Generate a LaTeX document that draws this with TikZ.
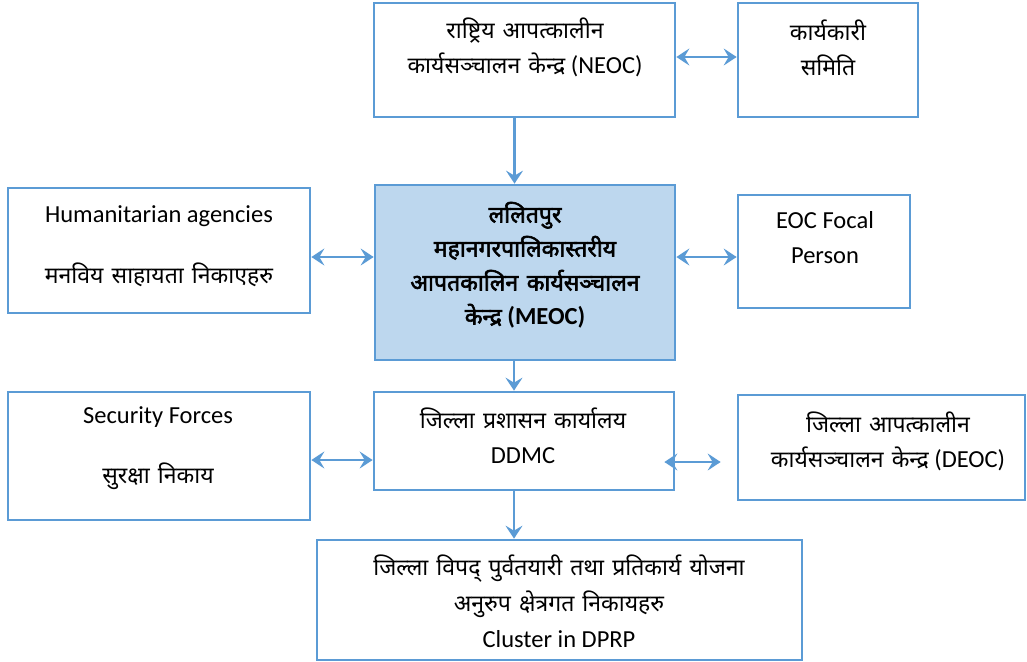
\documentclass[tikz,border=0pt]{standalone}
\usepackage{fontspec}
\setmainfont{Carlito}
\newfontfamily\deva[Script=Devanagari,WordSpace=1.35,Scale=0.94]{Noto Sans}
\newfontfamily\devab[Script=Devanagari,WordSpace=1.2,Scale=0.94,FakeBold=2.5]{Noto Sans}
\usetikzlibrary{arrows.meta}
\definecolor{lineblue}{HTML}{5B9BD5}
\definecolor{fillblue}{HTML}{BDD7EE}
\begin{document}
\begin{tikzpicture}[x=1pt,y=-1pt,
  box/.style={draw=lineblue, line width=2.7pt, rectangle, inner sep=0pt},
  lbl/.style={align=center, inner sep=0pt, font=\fontsize{24.5}{35}\selectfont},
  conn/.style={draw=lineblue, line width=2.7pt, {Stealth[length=13pt,width=17pt,inset=5pt]}-{Stealth[length=13pt,width=17pt,inset=5pt]}},
  arr/.style={draw=lineblue, line width=2.7pt, -{Stealth[length=13pt,width=17pt,inset=5pt]}}]
\useasboundingbox (0,0) rectangle (1027,661);
% boxes
\node[box, minimum width=301pt, minimum height=114pt] (neoc) at (524.5,60) {};
\node[box, minimum width=180pt, minimum height=114pt] (kary) at (828,60) {};
\node[box, minimum width=302pt, minimum height=125pt] (hum) at (159,250.5) {};
\node[box, fill=fillblue, minimum width=300pt, minimum height=175pt] (meoc) at (525,272.5) {};
\node[box, minimum width=172pt, minimum height=113pt] (eoc) at (824,251.5) {};
\node[box, minimum width=302pt, minimum height=128pt] (sec) at (159,456) {};
\node[box, minimum width=300pt, minimum height=98pt] (ddmc) at (524,441) {};
\node[box, minimum width=287pt, minimum height=105pt] (deoc) at (881.5,447.5) {};
\node[box, minimum width=485pt, minimum height=120pt] (clus) at (559.5,600) {};
% labels
\node[lbl] (neoct) at (525,47.5) {{\deva राष्ट्रिय आपत्कालीन}\\{\deva कार्यसञ्चालन केन्द्र} (NEOC)};
\node[lbl] (karyt) at (828,47.5) {{\deva कार्यकारी}\\{\deva समिति}};
\node[lbl] (humt) at (159,246) {Humanitarian agencies\\[26pt]{\deva मनविय साहायता निकाएहरु}};
\node[lbl, font=\fontsize{24.5}{34}\selectfont\bfseries] (meoct) at (525,265) {{\devab ललितपुर}\\{\devab महानगरपालिकास्तरीय}\\{\devab आपतकालिन कार्यसञ्चालन}\\{\devab केन्द्र} (MEOC)};
\node[lbl] (eoct) at (825,237.5) {EOC Focal\\Person};
\node[lbl] (sect) at (158,448) {Security Forces\\[25pt]{\deva सुरक्षा निकाय}};
\node[lbl] (ddmct) at (523,435.5) {{\deva जिल्ला प्रशासन कार्यालय}\\DDMC};
\node[lbl] (deoct) at (888,441) {{\deva जिल्ला आपत्कालीन}\\{\deva कार्यसञ्चालन केन्द्र} (DEOC)};
\node[lbl, font=\fontsize{24.5}{36}\selectfont] (clust) at (559,601) {{\deva जिल्ला विपद् पुर्वतयारी तथा प्रतिकार्य योजना}\\{\deva अनुरुप क्षेत्रगत निकायहरु}\\Cluster in DPRP};
% connectors
\draw[conn] ([yshift=3pt]neoc.east) -- ([yshift=3pt]kary.west);
\draw[arr] ([xshift=-10pt]neoc.south) -- ([xshift=-10pt]neoc.south |- meoc.north);
\draw[conn] ([yshift=-6.5pt]hum.east) -- ([yshift=-6.5pt]hum.east -| meoc.west);
\draw[conn] ([yshift=-5.5pt]eoc.west -| meoc.east) -- ([yshift=-5.5pt]eoc.west);
\draw[arr] ([xshift=-11pt]meoc.south) -- ([xshift=-11pt]meoc.south |- ddmc.north);
\draw[conn] ([yshift=-4pt]sec.east) -- ([yshift=-4pt]sec.east -| ddmc.west);
\draw[conn] ([xshift=-11pt,yshift=-21pt]ddmc.east) -- ([xshift=-16pt,yshift=-14.5pt]deoc.west);
\draw[arr] ([xshift=-10pt]ddmc.south) -- ([xshift=-10pt]ddmc.south |- clus.north);
\end{tikzpicture}
\end{document}
